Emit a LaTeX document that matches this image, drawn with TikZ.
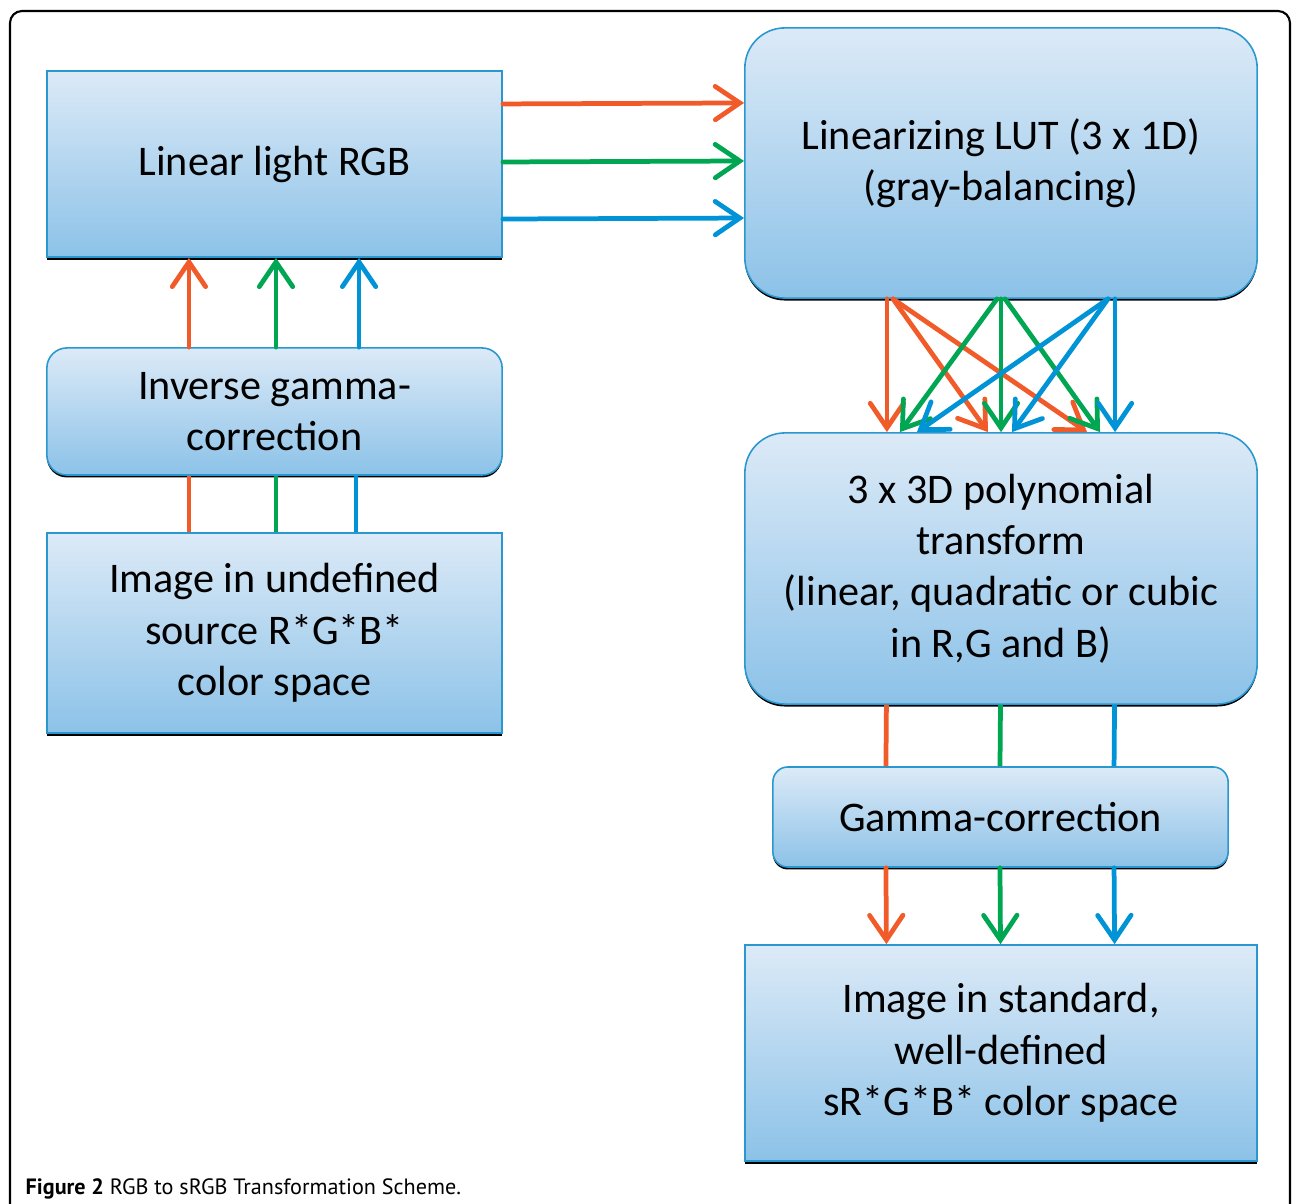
\documentclass[tikz,border=0pt]{standalone}
\usepackage{fontspec}
\setmainfont{Carlito}
\newfontfamily\capfont{PT Sans}
\usetikzlibrary{arrows.meta,shadows}
\definecolor{arrred}{HTML}{F15A29}
\definecolor{arrgreen}{HTML}{00A651}
\definecolor{arrblue}{HTML}{0093D6}
\definecolor{boxline}{HTML}{2A98CF}
\definecolor{boxtop}{HTML}{DCEAF7}
\definecolor{boxbot}{HTML}{8CC2E8}
\begin{document}
\begin{tikzpicture}[x=0.01cm,y=-0.01cm,
  blk/.style={draw=boxline, line width=0.45pt, top color=boxtop, bottom color=boxbot,
    inner sep=0pt, align=center, font=\fontsize{12}{14.6}\selectfont,
    drop shadow={shadow xshift=0pt, shadow yshift=-0.7pt, opacity=1, fill=black}},
  rblk/.style={blk, rounded corners=#1},
  link/.style={line width=1.35pt},
  flow/.style={link, line cap=round, -{Straight Barb[length=7pt,width=9.5pt,line cap=round]}}]
\useasboundingbox (0,0) rectangle (1293,1204);
\draw[line width=0.6pt, rounded corners=0.12cm] (10,1240)--(10,11)--(1290,11)--(1290,1240);
% left column
\node[blk, minimum width=4.55cm, minimum height=1.86cm] (lin) at (274.5,164) {Linear light RGB};
\node[rblk=0.2cm, minimum width=4.55cm, minimum height=1.27cm] (inv) at (274.5,411.5) {Inverse gamma-\\correction};
\node[blk, minimum width=4.55cm, minimum height=2cm] (src) at (274.5,633) {Image in undefined\\source R*G*B*\\color space};
% right column
\node[rblk=0.4cm, minimum width=5.12cm, minimum height=2.7cm] (lut) at (1001,163) {Linearizing LUT (3 x 1D)\\(gray-balancing)};
\node[rblk=0.4cm, minimum width=5.12cm, minimum height=2.71cm] (poly) at (1001,568.5) {3 x 3D polynomial\\transform\\(linear, quadratic or cubic\\in R,G and B)};
\node[rblk=0.15cm, minimum width=4.55cm, minimum height=1cm] (gam) at (1000.5,817) {Gamma-correction};
\node[blk, minimum width=5.12cm, minimum height=2.16cm] (std) at (1001,1053) {Image in standard,\\well-defined\\sR*G*B* color space};
% source to linear light
\draw[link, arrred] ([xshift=-0.855cm]src.north) -- ([xshift=-0.855cm]inv.south);
\draw[link, arrgreen] ([xshift=0.015cm]src.north) -- ([xshift=0.015cm]inv.south);
\draw[link, arrblue] ([xshift=0.815cm]src.north) -- ([xshift=0.815cm]inv.south);
\draw[flow, arrred] ([xshift=-0.855cm]inv.north) -- ([xshift=-0.855cm]lin.south);
\draw[flow, arrgreen] ([xshift=0.015cm]inv.north) -- ([xshift=0.015cm]lin.south);
\draw[flow, arrblue] ([xshift=0.845cm]inv.north) -- ([xshift=0.845cm]lin.south);
% linear light to LUT
\draw[flow, arrred] ([yshift=0.6cm]lin.east) -- ([yshift=0.6cm]lut.west);
\draw[flow, arrgreen] ([yshift=0.02cm]lin.east) -- ([yshift=0.02cm]lut.west);
\draw[flow, arrblue] ([yshift=-0.55cm]lin.east) -- ([yshift=-0.55cm]lut.west);
% LUT to polynomial, every channel into every channel
\draw[flow, arrred] ([xshift=-1.14cm]lut.south) -- ([xshift=-1.14cm]poly.north);
\draw[flow, arrred] ([xshift=-1.08cm]lut.south) -- ([xshift=-0.13cm]poly.north);
\draw[flow, arrred] ([xshift=-1.08cm]lut.south) -- ([xshift=0.86cm]poly.north);
\draw[flow, arrgreen] ([xshift=-0.04cm]lut.south) -- ([xshift=-1.01cm]poly.north);
\draw[flow, arrgreen] (lut.south) -- (poly.north);
\draw[flow, arrgreen] ([xshift=0.04cm]lut.south) -- ([xshift=0.99cm]poly.north);
\draw[flow, arrblue] ([xshift=1.07cm]lut.south) -- ([xshift=-0.84cm]poly.north);
\draw[flow, arrblue] ([xshift=1.07cm]lut.south) -- ([xshift=0.11cm]poly.north);
\draw[flow, arrblue] ([xshift=1.14cm]lut.south) -- ([xshift=1.14cm]poly.north);
% polynomial to output
\draw[link, arrred] ([xshift=-1.145cm]poly.south) -- ([xshift=-1.145cm]gam.north);
\draw[link, arrgreen] ([xshift=-0.005cm]poly.south) -- ([xshift=-0.005cm]gam.north);
\draw[link, arrblue] ([xshift=1.135cm]poly.south) -- ([xshift=1.135cm]gam.north);
\draw[flow, arrred] ([xshift=-1.145cm]gam.south) -- ([xshift=-1.145cm]std.north);
\draw[flow, arrgreen] ([xshift=-0.005cm]gam.south) -- ([xshift=-0.005cm]std.north);
\draw[flow, arrblue] ([xshift=1.135cm]gam.south) -- ([xshift=1.135cm]std.north);
\node[anchor=base west, inner sep=0pt, font=\capfont\fontsize{6.3}{7}\selectfont] (cap) at (25,1195)
  {\textbf{Figure 2} RGB to sRGB Transformation Scheme.};
\end{tikzpicture}
\end{document}
